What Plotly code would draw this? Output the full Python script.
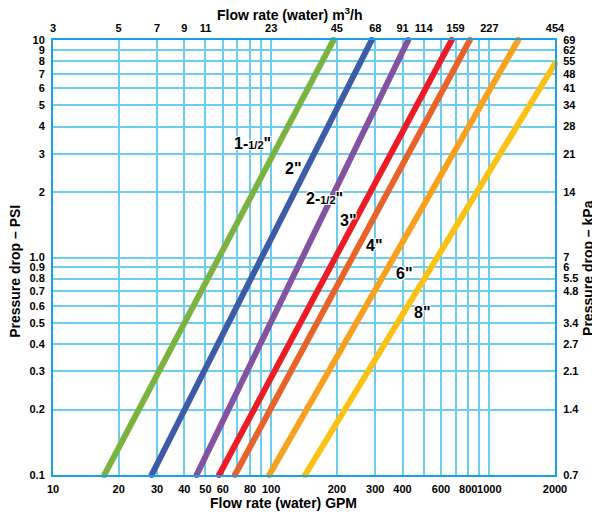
"""Pressure drop vs. flow rate chart (log-log) with GPM / m3/h and PSI / kPa scales."""

import math

import plotly.graph_objects as go

# Pipe sizes: (label, gpm at start, psi at start, gpm at end, psi at end)
SIZES = ["1-1/2\"", "2\"", "2-1/2\"", "3\"", "4\"", "6\"", "8\""]
GPM_START = [17.2, 28.3, 45.5, 57.7, 68.2, 98.0, 143.0]
PSI_START = [0.1, 0.1, 0.1, 0.1, 0.1, 0.1, 0.1]
GPM_END = [193.0, 289.0, 425.0, 672.0, 814.0, 1357.0, 2000.0]
PSI_END = [10.0, 10.0, 10.0, 10.0, 10.0, 10.0, 7.8]
COLORS = ["#7ab33f", "#3c5ca8", "#8352a0", "#ed1c24", "#e8632a", "#f7a11e", "#fbc214"]

# where each size label sits (GPM, PSI)
LABEL_GPM = [82.5, 126.0, 175.0, 225.0, 296.0, 406.0, 491.0]
LABEL_PSI = [3.35, 2.57, 1.87, 1.48, 1.13, 0.847, 0.561]
LABEL_TEXT = [
    "1-<span style='font-size:11px'>1/2</span>\"",
    "2\"",
    "2-<span style='font-size:11px'>1/2</span>\"",
    "3\"",
    "4\"",
    "6\"",
    "8\"",
]

# bottom axis (GPM)
GPM_TICKS = [10, 20, 30, 40, 50, 60, 70, 80, 90, 100,
             200, 300, 400, 500, 600, 700, 800, 900, 1000, 2000]
GPM_TEXT = ["10", "20", "30", "40", "50", "60", " ", "80", " ", "100",
            "200", "300", "400", " ", "600", " ", "800", " ", "1000", "2000"]

# top axis (m3/h), placed at GPM positions
M3H_AT_GPM = [10, 20, 30, 40, 50, 100, 200, 300, 400, 500, 700, 1000, 2000]
M3H_TEXT = ["3", "5", "7", "9", "11", "23", "45", "68", "91", "114", "159", "227", "454"]

# left axis (PSI)
PSI_TICKS = [0.1, 0.2, 0.3, 0.4, 0.5, 0.6, 0.7, 0.8, 0.9, 1.0,
             2, 3, 4, 5, 6, 7, 8, 9, 10]
PSI_TEXT = ["0.1", "0.2", "0.3", "0.4", "0.5", "0.6", "0.7", "0.8", "0.9", "1.0",
            "2", "3", "4", "5", "6", "7", "8", "9", "10"]

# right axis (kPa), placed at PSI positions
KPA_AT_PSI = [0.1, 0.2, 0.3, 0.4, 0.5, 0.7, 0.8, 0.9, 1.0,
              2, 3, 4, 5, 6, 7, 8, 9, 10]
KPA_TEXT = ["0.7", "1.4", "2.1", "2.7", "3.4", "4.8", "5.5", "6", "7",
            "14", "21", "28", "34", "41", "48", "55", "62", "69"]

FONT = "Liberation Sans, Arial, sans-serif"
GRID = "#6cccf2"
FRAME = "#1ba1e2"
HALO = ("white 1px 1px 0px, white -1px -1px 0px, "
        "white 1px -1px 0px, white -1px 1px 0px")

X_RANGE = [1, math.log10(2000)]
Y_RANGE = [-1, 1]

fig = go.Figure()

for i, name in enumerate(SIZES):
    fig.add_trace(go.Scatter(
        x=[GPM_START[i], GPM_END[i]], y=[PSI_START[i], PSI_END[i]],
        mode="lines+markers", name=name,
        line=dict(color=COLORS[i], width=6),
        marker=dict(color=COLORS[i], size=6),
        cliponaxis=False, hoverinfo="skip", showlegend=False,
    ))

# invisible trace so the secondary axes get drawn
fig.add_trace(go.Scatter(x=[100], y=[1], xaxis="x2", yaxis="y2",
                         mode="markers", marker=dict(opacity=0),
                         hoverinfo="skip", showlegend=False))

for gx, gy, txt in zip(LABEL_GPM, LABEL_PSI, LABEL_TEXT):
    fig.add_annotation(x=math.log10(gx), y=math.log10(gy), xref="x", yref="y",
                       text=txt, showarrow=False,
                       font=dict(family=FONT, size=16, color="black",
                                 weight="bold", shadow=HALO))

tick_font = dict(family=FONT, size=11, color="black", weight="bold")
title_font = dict(family=FONT, size=14, color="black", weight="bold")

axis_common = dict(type="log", showline=True, linecolor=FRAME, linewidth=2,
                   gridcolor=GRID, gridwidth=1.5, ticks="", tickfont=tick_font,
                   zeroline=False, fixedrange=True, automargin=False,
                   tickangle=0)

# the page body adds an 8px offset, so the figure is a bit smaller than the window
fig.update_layout(
    width=592, height=512,
    margin=dict(l=45, r=45, t=32, b=45, autoexpand=False),
    paper_bgcolor="white", plot_bgcolor="white",
    xaxis=dict(**axis_common, range=X_RANGE, tickmode="array",
               tickvals=GPM_TICKS, ticktext=GPM_TEXT, mirror=True,
               ticklabelstandoff=3),
    xaxis2=dict(**axis_common, range=X_RANGE, overlaying="x", side="top",
                tickmode="array", tickvals=M3H_AT_GPM, ticktext=M3H_TEXT,
                showgrid=False, ticklabelstandoff=2),
    yaxis=dict(**axis_common, range=Y_RANGE, tickmode="array",
               tickvals=PSI_TICKS, ticktext=PSI_TEXT, mirror=True,
               ticklabelstandoff=4),
    yaxis2=dict(**axis_common, range=Y_RANGE, overlaying="y", side="right",
                tickmode="array", tickvals=KPA_AT_PSI, ticktext=KPA_TEXT,
                showgrid=False, ticklabelstandoff=4),
)

# axis titles as paper annotations, placed relative to the plot box
titles = [
    ("Flow rate (water) m<sup>3</sup>/h", 0.472, 1.0, 0, 0, 26),
    ("Flow rate (water) GPM", 0.460, 0.0, 0, 0, -28),
    ("Pressure drop – PSI", 0.0, 0.467, -90, -38, 0),
    ("Pressure drop – kPa", 1.0, 0.476, -90, 33, 0),
]
for txt, px_, py_, ang, xs, ys in titles:
    fig.add_annotation(x=px_, y=py_, xref="paper", yref="paper", text=txt,
                       showarrow=False, textangle=ang, xanchor="center",
                       yanchor="middle", xshift=xs, yshift=ys, font=title_font)

fig.write_html("out.html")
